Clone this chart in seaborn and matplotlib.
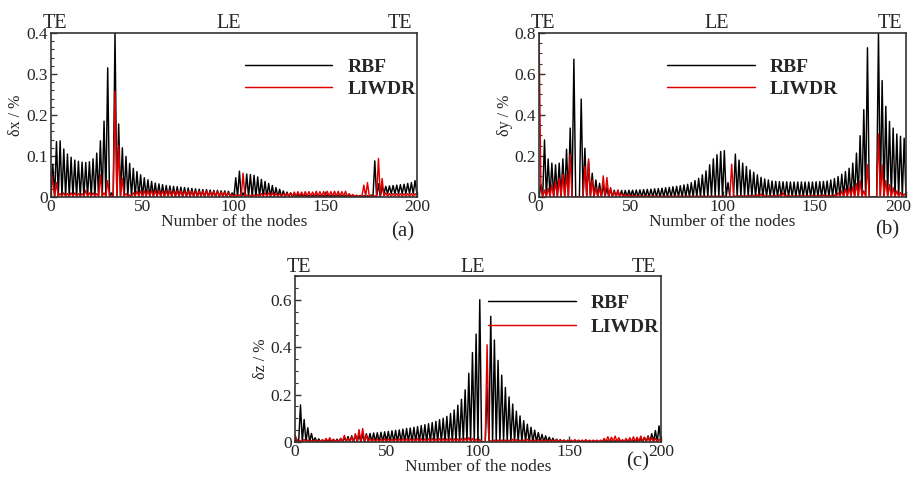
import numpy as np
import pandas as pd
import matplotlib
matplotlib.use('Agg')
import matplotlib.pyplot as plt
from matplotlib.ticker import AutoMinorLocator, FuncFormatter, MultipleLocator
from matplotlib.transforms import ScaledTranslation
import seaborn as sns

# ============================================================
# DATA  (node 0..200)
# odd lists  -> nodes 1, 3, ..., 199 (100 values)
# even lists -> nodes 0, 2, ..., 200 (101 values)
# ============================================================
methods = ['RBF', 'LIWDR']
top_labels = ['TE', 'LE', 'TE']
top_label_nodes = [2, 97, 191]
x_ticks = [0, 50, 100, 150, 200]

# ---- (a) delta x ----
rbf_x_odd = [
    0.080, 0.135, 0.137, 0.117, 0.105, 0.097, 0.090, 0.087, 0.085, 0.084,
    0.086, 0.093, 0.107, 0.137, 0.185, 0.315, 0.010, 0.400, 0.178, 0.120,
    0.099, 0.082, 0.070, 0.062, 0.054, 0.047, 0.042, 0.038, 0.034, 0.032,
    0.030, 0.028, 0.027, 0.026, 0.025, 0.024, 0.023, 0.022, 0.021, 0.020,
    0.019, 0.018, 0.018, 0.017, 0.016, 0.016, 0.015, 0.015, 0.014, 0.010,
    0.047, 0.063, 0.010, 0.056, 0.055, 0.053, 0.049, 0.043, 0.038, 0.033,
    0.028, 0.023, 0.019, 0.015, 0.012, 0.010, 0.008, 0.007, 0.006, 0.005,
    0.004, 0.004, 0.005, 0.004, 0.004, 0.005, 0.004, 0.004, 0.005, 0.004,
    0.004, 0.004, 0.004, 0.004, 0.004, 0.003, 0.003, 0.005, 0.088, 0.032,
    0.025, 0.026, 0.027, 0.028, 0.029, 0.030, 0.031, 0.033, 0.035, 0.040,
]
rbf_x_even = [
    0, 0, 0, 0, 0, 0, 0, 0, 0, 0, 0, 0, 0, 0, 0, 0, 0, 0, 0, 0,
    0, 0, 0, 0, 0, 0, 0, 0, 0, 0, 0, 0, 0, 0, 0, 0, 0, 0, 0, 0,
    0, 0, 0, 0, 0, 0, 0, 0, 0, 0, 0, 0, 0, 0, 0, 0, 0, 0, 0, 0,
    0, 0, 0, 0, 0, 0, 0, 0, 0, 0, 0, 0, 0, 0, 0, 0, 0, 0, 0, 0,
    0, 0, 0, 0, 0, 0, 0, 0, 0, 0, 0, 0.008, 0.008, 0.008, 0.008, 0.008,
    0.008, 0.008, 0.008, 0.008, 0.008,
]
liwdr_x_odd = [
    0.035, 0.035, 0.008, 0.010, 0.008, 0.010, 0.010, 0.008, 0.008, 0.016,
    0.010, 0.010, 0.008, 0.054, 0.010, 0.040, 0.002, 0.258, 0.125, 0.045,
    0.008, 0.005, 0.010, 0.014, 0.015, 0.015, 0.016, 0.016, 0.015, 0.016,
    0.015, 0.015, 0.016, 0.015, 0.015, 0.015, 0.014, 0.015, 0.014, 0.014,
    0.014, 0.014, 0.015, 0.013, 0.013, 0.013, 0.012, 0.012, 0.010, 0.006,
    0.005, 0.005, 0.058, 0.005, 0.004, 0.005, 0.006, 0.008, 0.010, 0.010,
    0.010, 0.009, 0.008, 0.008, 0.009, 0.010, 0.012, 0.013, 0.012, 0.013,
    0.013, 0.012, 0.014, 0.013, 0.013, 0.014, 0.013, 0.014, 0.014, 0.013,
    0.014, 0.008, 0.006, 0.004, 0.003, 0.029, 0.035, 0.003, 0.003, 0.094,
    0.045, 0.010, 0.008, 0.008, 0.008, 0.008, 0.008, 0.008, 0.008, 0.008,
]
liwdr_x_even = [
    0.065, 0.002, 0.002, 0.002, 0.002, 0.002, 0.002, 0.002, 0.002, 0.002,
    0.002, 0.002, 0.002, 0.002, 0.002, 0.002, 0.002, 0.002, 0.002, 0.002,
    0.002, 0.002, 0.002, 0.002, 0.002, 0.002, 0.002, 0.002, 0.002, 0.002,
    0.002, 0.002, 0.002, 0.002, 0.002, 0.002, 0.002, 0.002, 0.002, 0.002,
    0.002, 0.002, 0.002, 0.002, 0.002, 0.002, 0.002, 0.002, 0.002, 0.002,
    0.002, 0.002, 0.002, 0.002, 0.002, 0.002, 0.002, 0.002, 0.002, 0.002,
    0.002, 0.002, 0.002, 0.002, 0.002, 0.002, 0.002, 0.002, 0.002, 0.002,
    0.002, 0.002, 0.002, 0.002, 0.002, 0.002, 0.002, 0.002, 0.002, 0.002,
    0.002, 0.002, 0.002, 0.002, 0.002, 0.002, 0.002, 0.002, 0.002, 0.002,
    0.002, 0.002, 0.002, 0.002, 0.002, 0.002, 0.002, 0.002, 0.002, 0.002,
    0.002,
]

# ---- (b) delta y ----
rbf_y_odd = [
    0.060, 0.278, 0.185, 0.165, 0.157, 0.165, 0.186, 0.233, 0.336, 0.672,
    0.000, 0.478, 0.238, 0.173, 0.116, 0.083, 0.067, 0.059, 0.046, 0.038,
    0.033, 0.032, 0.032, 0.032, 0.033, 0.033, 0.034, 0.035, 0.036, 0.037,
    0.038, 0.040, 0.041, 0.043, 0.045, 0.047, 0.050, 0.052, 0.055, 0.059,
    0.062, 0.070, 0.080, 0.091, 0.108, 0.127, 0.157, 0.186, 0.206, 0.222,
    0.226, 0.070, 0.000, 0.209, 0.180, 0.165, 0.149, 0.132, 0.121, 0.108,
    0.096, 0.088, 0.083, 0.078, 0.076, 0.075, 0.074, 0.074, 0.073, 0.073,
    0.073, 0.073, 0.073, 0.073, 0.073, 0.074, 0.075, 0.076, 0.078, 0.083,
    0.090, 0.100, 0.111, 0.124, 0.140, 0.165, 0.214, 0.299, 0.426, 0.728,
    0.000, 0.000, 0.800, 0.568, 0.442, 0.369, 0.336, 0.307, 0.296, 0.287,
]
rbf_y_even = [
    0, 0, 0, 0, 0, 0, 0, 0, 0, 0, 0, 0, 0, 0, 0, 0, 0, 0, 0, 0,
    0, 0, 0, 0, 0, 0, 0, 0, 0, 0, 0, 0, 0, 0, 0, 0, 0, 0, 0, 0,
    0, 0, 0, 0, 0, 0, 0, 0, 0, 0, 0, 0, 0, 0, 0, 0, 0, 0, 0, 0,
    0, 0, 0, 0, 0, 0, 0, 0, 0, 0, 0, 0, 0, 0, 0, 0, 0, 0, 0, 0,
    0, 0, 0, 0, 0, 0, 0, 0, 0, 0, 0, 0, 0, 0, 0, 0, 0, 0, 0, 0,
    0,
]
liwdr_y_odd = [
    0.067, 0.034, 0.042, 0.059, 0.075, 0.091, 0.111, 0.108, 0.209, 0.000,
    0.000, 0.000, 0.149, 0.186, 0.083, 0.046, 0.042, 0.103, 0.095, 0.046,
    0.026, 0.034, 0.018, 0.012, 0.010, 0.008, 0.007, 0.006, 0.005, 0.005,
    0.004, 0.004, 0.004, 0.004, 0.004, 0.004, 0.004, 0.004, 0.004, 0.004,
    0.004, 0.004, 0.004, 0.004, 0.004, 0.004, 0.004, 0.004, 0.004, 0.004,
    0.004, 0.000, 0.160, 0.005, 0.006, 0.006, 0.006, 0.008, 0.008, 0.010,
    0.015, 0.008, 0.006, 0.006, 0.008, 0.010, 0.020, 0.008, 0.006, 0.006,
    0.006, 0.008, 0.006, 0.006, 0.008, 0.006, 0.008, 0.010, 0.008, 0.008,
    0.010, 0.020, 0.030, 0.040, 0.045, 0.050, 0.065, 0.080, 0.030, 0.157,
    0.000, 0.000, 0.307, 0.157, 0.080, 0.060, 0.045, 0.030, 0.022, 0.015,
]
liwdr_y_even = [
    0.800, 0.002, 0.002, 0.002, 0.002, 0.002, 0.002, 0.002, 0.002, 0.002,
    0.002, 0.002, 0.002, 0.002, 0.002, 0.002, 0.002, 0.002, 0.002, 0.002,
    0.002, 0.002, 0.002, 0.002, 0.002, 0.002, 0.002, 0.002, 0.002, 0.002,
    0.002, 0.002, 0.002, 0.002, 0.002, 0.002, 0.002, 0.002, 0.002, 0.002,
    0.002, 0.002, 0.002, 0.002, 0.002, 0.002, 0.002, 0.002, 0.002, 0.002,
    0.002, 0.002, 0.002, 0.002, 0.002, 0.002, 0.002, 0.002, 0.002, 0.002,
    0.002, 0.002, 0.002, 0.002, 0.002, 0.002, 0.002, 0.002, 0.002, 0.002,
    0.002, 0.002, 0.002, 0.002, 0.002, 0.002, 0.002, 0.002, 0.002, 0.002,
    0.002, 0.002, 0.002, 0.002, 0.002, 0.002, 0.002, 0.002, 0.002, 0.002,
    0.002, 0.002, 0.002, 0.002, 0.002, 0.002, 0.002, 0.002, 0.002, 0.002,
    0.002,
]

# ---- (c) delta z ----
rbf_z_odd = [
    0.010, 0.156, 0.095, 0.060, 0.036, 0.018, 0.013, 0.008, 0.008, 0.009,
    0.010, 0.012, 0.015, 0.019, 0.023, 0.026, 0.029, 0.031, 0.033, 0.035,
    0.036, 0.038, 0.039, 0.041, 0.043, 0.045, 0.047, 0.049, 0.051, 0.054,
    0.057, 0.059, 0.062, 0.065, 0.069, 0.073, 0.077, 0.082, 0.087, 0.094,
    0.100, 0.108, 0.120, 0.135, 0.155, 0.180, 0.220, 0.290, 0.377, 0.455,
    0.600, 0.000, 0.228, 0.530, 0.430, 0.344, 0.282, 0.230, 0.190, 0.160,
    0.130, 0.110, 0.090, 0.075, 0.062, 0.050, 0.040, 0.032, 0.026, 0.020,
    0.016, 0.012, 0.010, 0.008, 0.006, 0.005, 0.005, 0.005, 0.005, 0.005,
    0.005, 0.005, 0.005, 0.005, 0.005, 0.005, 0.005, 0.005, 0.005, 0.005,
    0.005, 0.005, 0.006, 0.010, 0.014, 0.019, 0.026, 0.035, 0.048, 0.068,
]
rbf_z_even = [
    0, 0, 0, 0, 0, 0, 0, 0, 0, 0, 0, 0, 0, 0, 0, 0, 0, 0, 0, 0,
    0, 0, 0, 0, 0, 0, 0, 0, 0, 0, 0, 0, 0, 0, 0, 0, 0, 0, 0, 0,
    0, 0, 0, 0, 0, 0, 0, 0, 0, 0, 0, 0, 0, 0, 0, 0, 0, 0, 0, 0,
    0, 0, 0, 0, 0, 0, 0, 0, 0, 0, 0, 0, 0, 0, 0, 0, 0, 0, 0, 0,
    0, 0, 0, 0, 0, 0, 0, 0, 0, 0, 0, 0, 0, 0, 0, 0, 0, 0, 0, 0,
    0,
]
liwdr_z_odd = [
    0.008, 0.006, 0.010, 0.008, 0.006, 0.008, 0.006, 0.010, 0.015, 0.018,
    0.012, 0.008, 0.015, 0.028, 0.015, 0.020, 0.035, 0.052, 0.057, 0.030,
    0.015, 0.012, 0.013, 0.012, 0.014, 0.013, 0.012, 0.014, 0.013, 0.014,
    0.013, 0.014, 0.013, 0.015, 0.014, 0.013, 0.014, 0.015, 0.013, 0.014,
    0.014, 0.013, 0.015, 0.014, 0.013, 0.015, 0.016, 0.018, 0.015, 0.012,
    0.010, 0.000, 0.410, 0.005, 0.008, 0.008, 0.008, 0.008, 0.008, 0.012,
    0.010, 0.008, 0.008, 0.012, 0.008, 0.008, 0.010, 0.008, 0.008, 0.008,
    0.008, 0.010, 0.008, 0.008, 0.008, 0.008, 0.010, 0.008, 0.008, 0.010,
    0.008, 0.008, 0.008, 0.008, 0.015, 0.022, 0.020, 0.025, 0.018, 0.010,
    0.015, 0.018, 0.022, 0.020, 0.025, 0.020, 0.022, 0.018, 0.015, 0.012,
]
liwdr_z_even = [
    0.031, 0.002, 0.002, 0.002, 0.002, 0.002, 0.002, 0.002, 0.002, 0.002,
    0.002, 0.002, 0.002, 0.002, 0.002, 0.002, 0.002, 0.002, 0.002, 0.002,
    0.002, 0.002, 0.002, 0.002, 0.002, 0.002, 0.002, 0.002, 0.002, 0.002,
    0.002, 0.002, 0.002, 0.002, 0.002, 0.002, 0.002, 0.002, 0.002, 0.002,
    0.002, 0.002, 0.002, 0.002, 0.002, 0.002, 0.002, 0.002, 0.002, 0.002,
    0.002, 0.002, 0.002, 0.002, 0.002, 0.002, 0.002, 0.002, 0.002, 0.002,
    0.002, 0.002, 0.002, 0.002, 0.002, 0.002, 0.002, 0.002, 0.002, 0.002,
    0.002, 0.002, 0.002, 0.002, 0.002, 0.002, 0.002, 0.002, 0.002, 0.002,
    0.002, 0.002, 0.002, 0.002, 0.002, 0.002, 0.002, 0.002, 0.002, 0.002,
    0.002, 0.002, 0.002, 0.002, 0.002, 0.002, 0.002, 0.002, 0.002, 0.002,
    0.002,
]


def merge(even, odd):
    """interleave even/odd node values into one series (node 0..200)"""
    v = np.empty(len(even) + len(odd))
    v[0::2] = even
    v[1::2] = odd
    return v


def long_frame(rbf, liwdr):
    n = len(rbf)
    return pd.DataFrame({
        'node': np.concatenate([np.arange(n), np.arange(n)]),
        'value': np.concatenate([rbf, liwdr]),
        'method': ['RBF'] * n + ['LIWDR'] * n,
    })


frames = [
    long_frame(merge(rbf_x_even, rbf_x_odd), merge(liwdr_x_even, liwdr_x_odd)),
    long_frame(merge(rbf_y_even, rbf_y_odd), merge(liwdr_y_even, liwdr_y_odd)),
    long_frame(merge(rbf_z_even, rbf_z_odd), merge(liwdr_z_even, liwdr_z_odd)),
]

# ============================================================
# STYLE / LAYOUT
# ============================================================
sns.set_style('ticks')
plt.rcParams['font.family'] = ['Liberation Serif', 'DejaVu Serif']

palette = {'RBF': '#000000', 'LIWDR': '#e00000'}
frame_col = '#333333'

panels = [
    # rect, ylabel, ymax, ystep, minor, letter, letter pos, legend anchor, legend spacing, top label y
    ([0.0556, 0.5896, 0.3990, 0.3417], 'δx / %', 0.4, 0.1, 5, '(a)', (0.96, -0.21), (0.530, 0.848), 0.24, 1.03),
    ([0.5878, 0.5896, 0.4002, 0.3417], 'δy / %', 0.8, 0.2, 4, '(b)', (0.95, -0.20), (0.350, 0.848), 0.24, 1.03),
    ([0.3217, 0.0792, 0.3990, 0.3458], 'δz / %', 0.7, 0.2, 4, '(c)', (0.937, -0.12), (0.528, 0.89), 0.32, 1.026),
]

fig = plt.figure(figsize=(9.17, 4.8), dpi=100)

for i, (df, (rect, ylab, ymax, ystep, nminor, letter, lpos, leg_anchor, leg_sp, top_y)) in enumerate(zip(frames, panels)):
    ax = fig.add_axes(rect)
    sns.lineplot(data=df, x='node', y='value', hue='method', hue_order=methods,
                 palette=palette, estimator=None, sort=False, linewidth=1.05,
                 legend=False, ax=ax)

    ax.set_xlim(0, 200)
    ax.set_ylim(0, ymax)
    ax.set_xticks(x_ticks)
    ax.yaxis.set_major_locator(MultipleLocator(ystep))
    ax.yaxis.set_minor_locator(AutoMinorLocator(nminor))
    ax.yaxis.set_major_formatter(FuncFormatter(lambda v, p: f'{v:g}'))
    ax.tick_params(axis='both', which='major', direction='in', length=4.5,
                   width=1.0, color=frame_col, labelsize=12.5, pad=2.5)
    ax.tick_params(axis='x', which='major', pad=1.5)
    ax.tick_params(axis='y', which='minor', direction='in', length=2.5,
                   width=0.8, color=frame_col)
    for sp in ax.spines.values():
        sp.set_color(frame_col)
        sp.set_linewidth(1.2)

    # the right-most x label of panel (b) sits a little to the left, as in the source
    if i == 1:
        last = ax.get_xticklabels()[-1]
        last.set_transform(last.get_transform() + ScaledTranslation(-8 / 100, 0, fig.dpi_scale_trans))

    ax.set_xlabel('Number of the nodes', fontsize=12.5, labelpad=-1)
    ax.set_ylabel(ylab, fontsize=11.5, labelpad=1)

    for lab, n in zip(top_labels, top_label_nodes):
        ax.text(n, top_y, lab, transform=ax.get_xaxis_transform(),
                ha='center', va='baseline', fontsize=14.5)

    ax.text(lpos[0], lpos[1], letter, transform=ax.transAxes,
            ha='center', va='center', fontsize=15)

    handles = ax.get_lines()[:2]
    ax.legend(handles, methods, loc='upper left', bbox_to_anchor=leg_anchor,
              frameon=False, handlelength=4.5, handletextpad=0.77,
              labelspacing=leg_sp, borderpad=0, borderaxespad=0,
              prop={'family': 'Liberation Serif', 'weight': 'bold', 'size': 14})

fig.savefig('out.png', dpi=100)
